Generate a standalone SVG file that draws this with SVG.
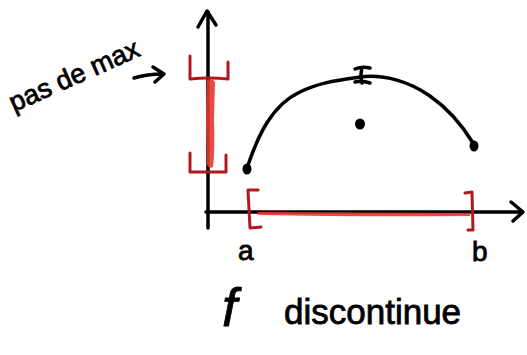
<svg xmlns="http://www.w3.org/2000/svg" width="527" height="355" viewBox="0 0 527 355">
<style>
.ink{fill:none;stroke:#000;stroke-width:3.5;stroke-linecap:round;stroke-linejoin:round}
.red{fill:none;stroke:#b3161c;stroke-width:3;stroke-linecap:round;stroke-linejoin:round}
.smear{fill:#e8392e;opacity:0.9}
.hand{font-family:"Liberation Sans","DejaVu Sans",sans-serif;fill:#000;stroke:#000;stroke-width:0.8}
.dot{fill:#000}
</style>
<rect width="527" height="355" fill="#fff"/>
<g id="axes">
<path class="ink" d="M208,12 L208,228"/>
<path class="ink" d="M198,27 L207,11 L216,25"/>
<path class="ink" d="M206,212 L520,212"/>
<path class="ink" d="M511,202 L523,212 L513,221"/>
</g>
<g id="y-interval">
<path class="smear" d="M207,80 Q213,78 215,82 L214,120 Q215,150 213,167 Q209,169 207,165 L206,120 Z"/>
<path class="red" d="M190,56 L190,79 Q209,77 228,79 L228,62"/>
<path class="red" d="M190,153 L190,172 L226,172 L226,155"/>
</g>
<g id="x-interval">
<path class="smear" d="M258,212 L470,213 L470,216 Q360,217 258,215 Z"/>
<path class="red" d="M258,190 L248,190 L250,228 L261,227"/>
<path class="red" d="M465,193 L472,192 L473,230 L468,230"/>
</g>
<g id="curve">
<path class="ink" d="M247,168 C258,135 272,105 300,92 C320,82 340,80 360,77 C385,74 410,82 430,96 C450,110 462,125 473,143"/>
<path class="ink" d="M355,69 Q362,66 370,68 M362,68 Q360,76 362,83 M355,82 Q362,80 370,83"/>
<ellipse class="dot" cx="247" cy="169" rx="4.5" ry="5.5"/>
<ellipse class="dot" cx="474" cy="146" rx="4.5" ry="5.5"/>
<ellipse class="dot" cx="360" cy="124" rx="5" ry="5.5"/>
</g>
<g id="labels">
<text class="hand" x="238" y="260" font-size="28">a</text>
<text class="hand" x="472" y="261" font-size="28">b</text>
<text class="hand" font-size="27" transform="translate(14,112) rotate(-24)">pas de max</text>
<path class="ink" d="M134,78 Q148,74 162,74 M153,67 L164,74 L155,82"/>
<text class="hand" x="222" y="326" font-size="54" font-style="italic" font-family="Liberation Serif, serif">f</text>
<text class="hand" x="284" y="324" font-size="35">discontinue</text>
</g>
</svg>
